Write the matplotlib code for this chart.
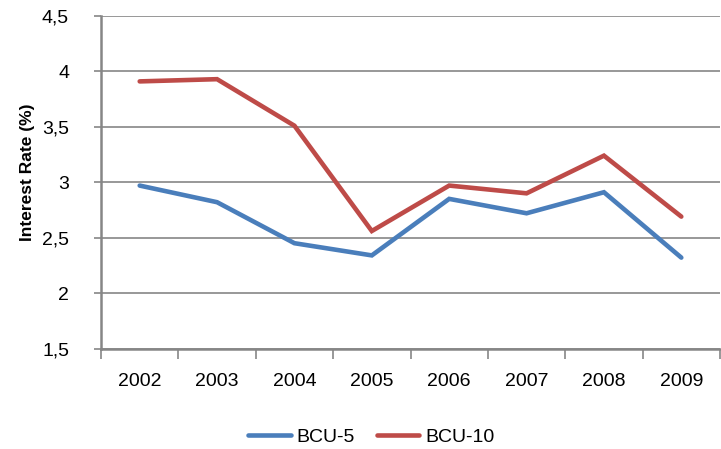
import matplotlib
matplotlib.use("Agg")
import matplotlib.pyplot as plt
from matplotlib import font_manager
from matplotlib.ticker import FixedLocator, FuncFormatter

# pick a narrow Arial-like face if installed
FONT = "Liberation Sans"
for cand in ["Liberation Sans Narrow", "Arial Narrow"]:
    try:
        font_manager.findfont(cand, fallback_to_default=False)
        FONT = cand
        break
    except Exception:
        pass
plt.rcParams["font.family"] = [FONT, "DejaVu Sans"]
narrow = FONT != "Liberation Sans"
TICK_FS = 15.5 if narrow else 14
LAB_FS = 12 if narrow else 12.5

years = ["2002", "2003", "2004", "2005", "2006", "2007", "2008", "2009"]
bcu5 = [2.97, 2.82, 2.45, 2.34, 2.85, 2.72, 2.91, 2.32]
bcu10 = [3.91, 3.93, 3.51, 2.56, 2.97, 2.90, 3.24, 2.69]
yticks = [1.5, 2, 2.5, 3, 3.5, 4, 4.5]

BLUE = "#4A7EBB"
RED = "#BE4B48"
GRID = "#868686"

fig = plt.figure(figsize=(7.21, 4.49), dpi=100)
ax = fig.add_axes([101 / 721, 1 - 348.5 / 449, 619 / 721, 332.5 / 449])

x = list(range(len(years)))
ax.plot(x, bcu5, color=BLUE, lw=3.3, solid_capstyle="round", solid_joinstyle="miter", label="BCU-5", zorder=3)
ax.plot(x, bcu10, color=RED, lw=3.3, solid_capstyle="round", solid_joinstyle="miter", label="BCU-10", zorder=3)

ax.set_xlim(-0.5, len(years) - 0.5)
ax.set_ylim(1.5, 4.5)
ax.set_yticks(yticks)
ax.yaxis.set_major_formatter(FuncFormatter(lambda v, p: f"{v:g}".replace(".", ",")))
ax.grid(axis="y", color=GRID, lw=1.2)
ax.set_axisbelow(True)

ax.set_xticks(x)
ax.set_xticklabels(years)
ax.xaxis.set_minor_locator(FixedLocator([i - 0.5 for i in range(len(years) + 1)]))
ax.tick_params(axis="x", which="major", length=0, pad=18, labelsize=TICK_FS)
ax.tick_params(axis="x", which="minor", length=7, width=1.2, color=GRID)
ax.tick_params(axis="y", length=5, width=1.2, color=GRID, pad=18, labelsize=TICK_FS)

for s in ["top", "right"]:
    ax.spines[s].set_visible(False)
for s in ["left", "bottom"]:
    ax.spines[s].set_color(GRID)
    ax.spines[s].set_linewidth(1.8)

ax.set_ylabel("Interest Rate (%)", fontsize=LAB_FS, fontweight="bold", va="center")
ax.yaxis.set_label_coords(-0.119, 0.53)

fig.legend(loc="center", bbox_to_anchor=(0.515, 1 - 437 / 449), ncol=2, frameon=False,
           fontsize=TICK_FS, handlelength=2.2, handletextpad=0.3, columnspacing=1.1)

fig.savefig("out.png", dpi=100)
